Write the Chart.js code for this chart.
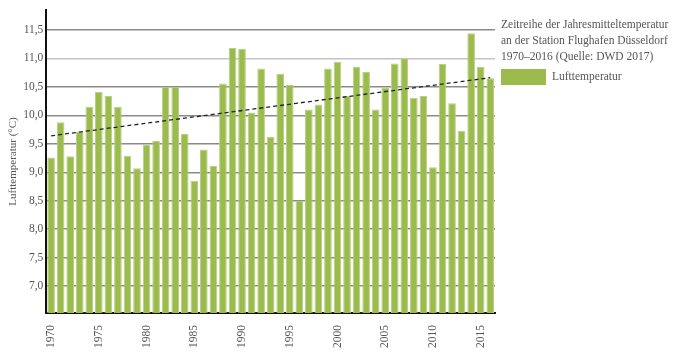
<!DOCTYPE html>
<html>
<head>
<meta charset="utf-8">
<script src="https://cdn.jsdelivr.net/npm/chart.js@4"></script>
<style>
  html, body { margin: 0; padding: 0; background: #fff; }
  #wrap { position: relative; width: 678px; height: 358px; }
  #note {
    position: absolute; left: 501px; top: 16px;
    font: 11.5px "Liberation Serif", serif; line-height: 16px; color: #555;
    white-space: nowrap;
  }
  #key { position: absolute; left: 501px; top: 69px; font: 11.5px "Liberation Serif", serif; color: #555; }
  #key span.box { position: absolute; left: 0; top: 0; width: 45px; height: 16px; background: #9bbb4c; }
  #key span.txt { position: absolute; left: 51px; top: 0; line-height: 14px; white-space: nowrap; }
</style>
</head>
<body>
<div id="wrap">
  <canvas id="tempChart" width="678" height="358"></canvas>
  <div id="note">Zeitreihe der Jahresmitteltemperatur<br>an der Station Flughafen Düsseldorf<br>1970–2016 (Quelle: DWD 2017)</div>
  <div id="key"><span class="box"></span><span class="txt">Lufttemperatur</span></div>
</div>
<script>
const years = [];
for (let y = 1970; y <= 2016; y++) years.push(String(y));

const temps = [
  9.26, 9.88, 9.28, 9.71, 10.15, 10.41, 10.34, 10.15, 9.29, 9.07,
  9.48, 9.55, 10.50, 10.50, 9.67, 8.85, 9.40, 9.11, 10.56, 11.18,
  11.17, 10.05, 10.82, 9.62, 10.73, 10.53, 8.50, 10.10, 10.19, 10.82,
  10.94, 10.34, 10.85, 10.76, 10.10, 10.49, 10.91, 11.00, 10.31, 10.34,
  9.09, 10.90, 10.21, 9.73, 11.44, 10.85, 10.65
];

const trendYears = ['1970', '2016'];
const trendValues = [9.64, 10.66];

const yTicks = [7.0, 7.5, 8.0, 8.5, 9.0, 9.5, 10.0, 10.5, 11.0, 11.5];

const serif = '"Liberation Serif", serif';

new Chart(document.getElementById('tempChart').getContext('2d'), {
  type: 'bar',
  data: {
    labels: years,
    datasets: [
      {
        type: 'line',
        label: 'Trend',
        data: trendYears.map((x, i) => ({ x: x, y: trendValues[i] })),
        borderColor: '#222',
        borderWidth: 1.3,
        borderDash: [4, 3],
        pointRadius: 0,
        fill: false,
        order: 0
      },
      {
        label: 'Lufttemperatur',
        data: temps,
        backgroundColor: '#9bbb4c',
        borderColor: '#b8cf86',
        borderWidth: 1,
        categoryPercentage: 1,
        barPercentage: 0.8,
        order: 1
      }
    ]
  },
  options: {
    responsive: false,
    animation: false,
    layout: { padding: { left: 7, right: 183, top: 5, bottom: 6 } },
    plugins: { legend: { display: false }, tooltip: { enabled: false } },
    scales: {
      x: {
        grid: { display: false },
        border: { display: true, color: '#111', width: 2 },
        ticks: {
          autoSkip: false,
          minRotation: 90,
          maxRotation: 90,
          padding: 4,
          color: '#555',
          font: { family: serif, size: 11.5 },
          callback: function (v, i) { return Number(years[i]) % 5 === 0 ? years[i] : ''; }
        }
      },
      y: {
        min: 6.53,
        max: 11.85,
        z: 1,
        afterBuildTicks: axis => { axis.ticks = yTicks.map(v => ({ value: v })); },
        grid: {
          drawTicks: false,
          lineWidth: 1.5,
          color: ctx => (ctx.tick && ctx.tick.value === 11 ? '#c4c4c4' : '#8a8a8a')
        },
        border: { display: true, color: '#111', width: 2 },
        ticks: {
          padding: 3,
          color: '#555',
          font: { family: serif, size: 11.5 },
          callback: v => v.toFixed(1).replace('.', ',')
        },
        title: {
          display: true,
          text: 'Lufttemperatur (°C)',
          color: '#555',
          font: { family: serif, size: 11 },
          padding: { top: 0, bottom: 0 }
        }
      }
    }
  }
});
</script>
</body>
</html>
